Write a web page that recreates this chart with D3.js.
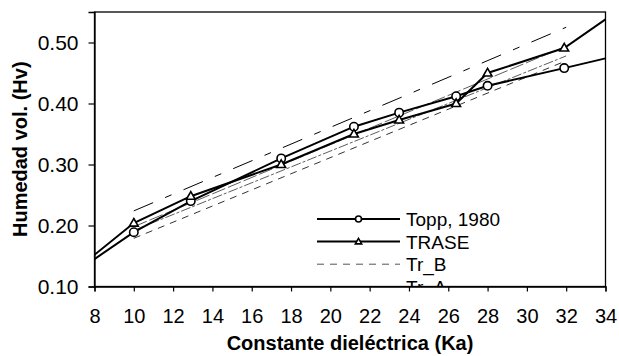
<!DOCTYPE html>
<html lang="es">
<head>
    <meta charset="UTF-8">
    <title>Humedad vol. vs Constante dieléctrica</title>
    <script src="https://d3js.org/d3.v7.min.js"></script>
    <style>
        body { margin: 0; background: #fff; }
        text { font-family: "Liberation Sans", Arial, sans-serif; fill: #000; }
        .x-axis .tick text { font-size: 20px; }
        .y-axis .tick text { font-size: 21px; }
        .title { font-size: 20px; font-weight: bold; }
        .legend text { font-size: 19px; }
    </style>
</head>
<body>
    <script>
        // Data
        const toppX = [8, 10, 12.9, 17.5, 21.2, 23.5, 26.4, 28, 31.9, 34];
        const toppY = [0.145, 0.189, 0.240, 0.310, 0.362, 0.385, 0.412, 0.429, 0.458, 0.474];
        const traseX = [8, 10, 12.9, 17.5, 21.2, 23.5, 26.4, 28, 31.9, 34];
        const traseY = [0.152, 0.204, 0.248, 0.300, 0.350, 0.373, 0.400, 0.450, 0.491, 0.538];
        const trBX = [10, 32];
        const trBY = [0.179, 0.470];
        const trAX = [10, 32];
        const trAY = [0.224, 0.525];
        const trCX = [10, 32];
        const trCY = [0.198, 0.494];
        const trDX = [10, 32];
        const trDY = [0.192, 0.478];

        const xTicks = [8, 10, 12, 14, 16, 18, 20, 22, 24, 26, 28, 30, 32, 34];
        const yTicks = [0.10, 0.20, 0.30, 0.40, 0.50];

        const width = 619, height = 356;
        const plotL = 94.5, plotR = 605.5, plotT = 12, plotB = 286.5;

        const svg = d3.select("body")
            .append("svg")
            .attr("width", width)
            .attr("height", height);

        const x = d3.scaleLinear().domain([8, 34]).range([plotL, plotR]);
        const y = d3.scaleLinear().domain([0.10, 0.55]).range([plotB, plotT]);

        svg.append("clipPath").attr("id", "plot")
            .append("rect")
            .attr("x", plotL).attr("y", plotT)
            .attr("width", plotR - plotL).attr("height", plotB - plotT);

        const series = [
            {name: "Topp, 1980", xs: toppX, ys: toppY, marker: "circle", dash: null, w: 2, color: "#000", legend: true},
            {name: "TRASE", xs: traseX, ys: traseY, marker: "triangle", dash: null, w: 2, color: "#000", legend: true},
            {name: "Tr_B", xs: trBX, ys: trBY, marker: null, dash: "7,6", w: 1, color: "#333", legend: true},
            {name: "Tr_A", xs: trAX, ys: trAY, marker: null, dash: "21,13,7,13", w: 1, color: "#000", legend: true},
            {name: "Tr_C", xs: trCX, ys: trCY, marker: null, dash: "14,3", w: 0.8, color: "#333", legend: false},
            {name: "Tr_D", xs: trDX, ys: trDY, marker: null, dash: "10,2,3,2", w: 0.8, color: "#333", legend: false}
        ];

        const line = d3.line().x(d => x(d[0])).y(d => y(d[1]));
        const plot = svg.append("g").attr("clip-path", "url(#plot)");

        // dashed lines first, solid on top
        series.slice().reverse().forEach(s => {
            const pts = s.xs.map((v, i) => [v, s.ys[i]]);
            plot.append("path")
                .attr("d", line(pts))
                .attr("fill", "none")
                .attr("stroke", s.color)
                .attr("stroke-width", s.w)
                .attr("stroke-dasharray", s.dash);
        });

        const tri = d3.symbol().type(d3.symbolTriangle);

        function drawMarker(g, type, cx, cy, size) {
            if (type === "circle") {
                g.append("circle")
                    .attr("cx", cx).attr("cy", cy).attr("r", size)
                    .attr("fill", "#fff").attr("stroke", "#000").attr("stroke-width", 1.6);
            } else if (type === "triangle") {
                g.append("path")
                    .attr("d", tri.size(size * size * 1.9)())
                    .attr("transform", `translate(${cx},${cy + 0.5})`)
                    .attr("fill", "#fff").attr("stroke", "#000").attr("stroke-width", 1.6);
            }
        }

        series.filter(s => s.marker).forEach(s => {
            s.xs.forEach((v, i) => {
                if (i === 0 || i === s.xs.length - 1) return;
                drawMarker(plot, s.marker, x(v), y(s.ys[i]), 4.2);
            });
        });

        // Legend (clipped by plot area like the original)
        const legend = plot.append("g").attr("class", "legend");
        series.filter(s => s.legend).forEach((s, i) => {
            const ly = 219 + i * 22.6;
            legend.append("line")
                .attr("x1", 317).attr("x2", 400)
                .attr("y1", ly).attr("y2", ly)
                .attr("stroke", s.dash ? "#555" : "#000")
                .attr("stroke-width", s.dash ? 1 : 2)
                .attr("stroke-dasharray", s.dash);
            if (s.marker) drawMarker(legend, s.marker, 358.5, ly, 3);
            legend.append("text")
                .attr("x", 406).attr("y", ly + 7)
                .text(s.name);
        });

        // Frame
        svg.append("rect")
            .attr("x", plotL).attr("y", plotT)
            .attr("width", plotR - plotL).attr("height", plotB - plotT)
            .attr("fill", "none").attr("stroke", "#000").attr("stroke-width", 1.3);

        // Axes
        svg.append("g")
            .attr("class", "x-axis")
            .attr("transform", `translate(0,${plotB})`)
            .call(d3.axisBottom(x).tickValues(xTicks).tickFormat(d3.format("d")).tickSize(5).tickPadding(17))
            .call(g => g.select(".domain").attr("stroke-width", 1.3))
            .call(g => g.selectAll(".tick line").attr("stroke-width", 1.2));

        svg.append("g")
            .attr("class", "y-axis")
            .attr("transform", `translate(${plotL},0)`)
            .call(d3.axisLeft(y).tickValues(yTicks).tickFormat(d3.format(".2f")).tickSize(6).tickPadding(10))
            .call(g => g.select(".domain").attr("stroke-width", 1.3))
            .call(g => g.selectAll(".tick line").attr("stroke-width", 1.2));

        svg.selectAll(".tick text").attr("font-family", null).attr("font-size", null);

        // Axis titles
        svg.append("text")
            .attr("class", "title")
            .attr("x", (plotL + plotR) / 2).attr("y", 350)
            .attr("text-anchor", "middle")
            .text("Constante dieléctrica (Ka)");

        svg.append("text")
            .attr("class", "title")
            .attr("transform", `translate(27,${(plotT + plotB) / 2}) rotate(-90)`)
            .attr("text-anchor", "middle")
            .text("Humedad vol. (Hv)");
    </script>
</body>
</html>
